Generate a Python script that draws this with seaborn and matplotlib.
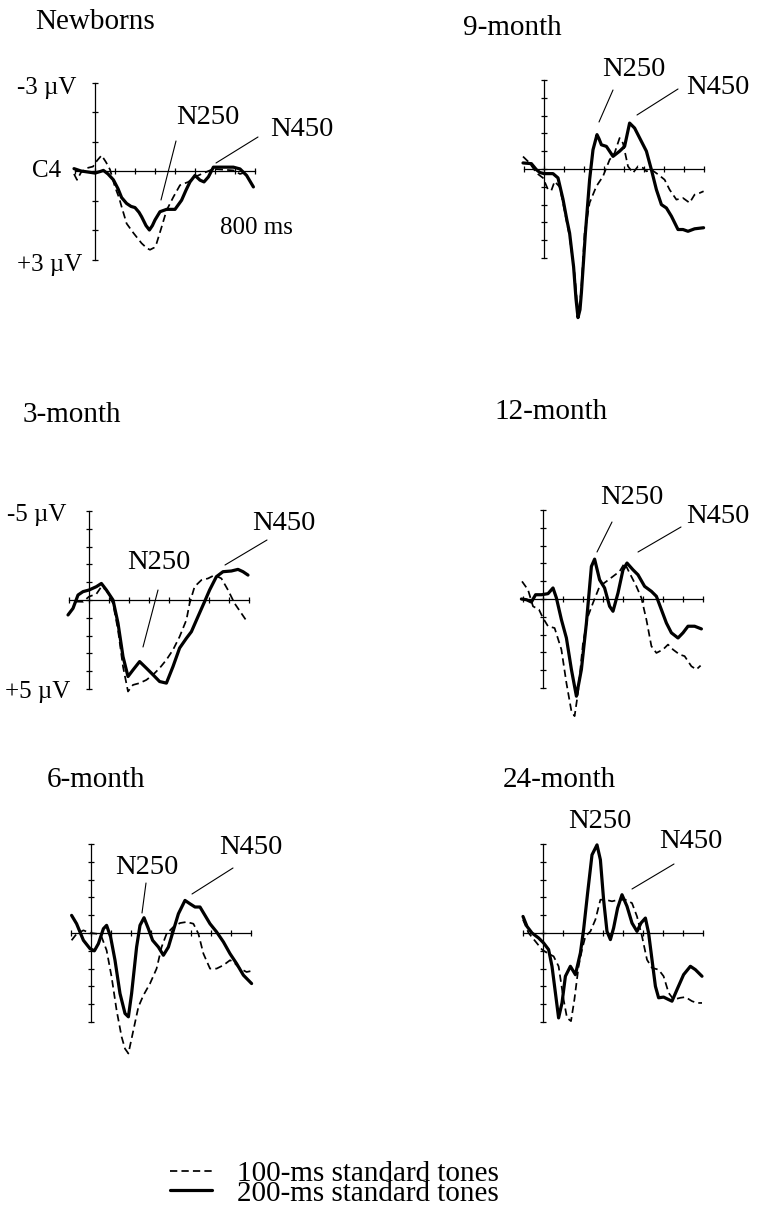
import numpy as np
import pandas as pd
import seaborn as sns
import matplotlib.pyplot as plt
from matplotlib.lines import Line2D

# ERP waveforms at C4 (ms, uV; positive values plotted downward)
nb_100_ms = [-105, -90, -70, -40, -10, 10, 33, 55, 75, 100, 120, 133, 158, 192, 233, 260, 275, 295, 308, 333, 358, 392, 425, 467, 500, 533, 592, 692, 725, 750]
nb_100_uv = [0.1, 0.3, 0.05, -0.1, -0.15, -0.35, -0.53, -0.3, -0.05, 0.54, 0.9, 1.21, 1.78, 2.1, 2.45, 2.62, 2.67, 2.6, 2.45, 1.9, 1.33, 0.88, 0.48, 0.37, 0.2, 0.1, -0.07, -0.02, 0.1, 0.05]
nb_200_ms = [-105, -70, -40, 0, 25, 42, 65, 92, 115, 133, 158, 180, 200, 220, 233, 255, 272, 287, 300, 325, 358, 400, 433, 455, 475, 500, 525, 545, 567, 592, 625, 692, 725, 758, 792]
nb_200_uv = [-0.08, 0.0, 0.03, 0.07, 0.02, -0.02, 0.1, 0.3, 0.6, 0.9, 1.1, 1.2, 1.24, 1.4, 1.55, 1.85, 2.0, 1.85, 1.66, 1.38, 1.3, 1.3, 0.99, 0.65, 0.37, 0.15, 0.31, 0.37, 0.2, -0.13, -0.13, -0.13, -0.07, 0.15, 0.54]

m9_100_ms = [-105, -72, -38, -5, 20, 37, 53, 78, 95, 128, 153, 170, 185, 203, 228, 262, 295, 328, 353, 378, 395, 420, 445, 470, 495, 512, 537, 570, 603, 628, 662, 695, 728, 753, 778, 798]
m9_100_uv = [-0.7, -0.34, 0.22, 0.5, 1.16, 1.2, 0.7, 1.0, 1.9, 3.8, 5.9, 8.1, 7.0, 3.6, 1.9, 0.97, 0.41, -0.52, -0.9, -1.74, -1.45, -0.15, 0.22, -0.15, -0.06, 0.13, 0.04, 0.3, 0.6, 1.16, 1.72, 1.63, 1.9, 1.44, 1.35, 1.25]
m9_200_ms = [-105, -63, -38, -20, 0, 45, 70, 95, 115, 128, 148, 160, 170, 180, 187, 207, 228, 245, 265, 275, 287, 312, 345, 378, 403, 428, 453, 487, 512, 537, 562, 587, 612, 637, 670, 695, 720, 753, 798]
m9_200_uv = [-0.34, -0.3, 0.04, 0.2, 0.26, 0.26, 0.5, 1.7, 2.9, 3.6, 5.5, 7.3, 8.35, 7.9, 6.95, 3.6, 0.6, -1.08, -1.93, -1.7, -1.36, -1.27, -0.71, -1.0, -1.27, -2.58, -2.3, -1.55, -1.0, 0.04, 1.16, 2.0, 2.19, 2.65, 3.4, 3.4, 3.5, 3.36, 3.3]

m3_100_ms = [-65, -30, 0, 37, 62, 87, 120, 145, 170, 195, 220, 253, 287, 320, 353, 387, 420, 453, 487, 503, 528, 562, 595, 628, 662, 695, 728, 762, 790]
m3_100_uv = [0.09, 0.1, -0.19, -0.34, -0.75, -0.56, 0.19, 1.68, 3.74, 5.14, 4.77, 4.67, 4.49, 4.2, 3.83, 3.36, 2.8, 2.06, 1.12, 0.19, -0.75, -1.12, -1.21, -1.4, -1.21, -0.56, 0.19, 0.75, 1.21]
m3_200_ms = [-105, -80, -55, -30, 0, 37, 62, 87, 120, 145, 170, 195, 220, 253, 287, 320, 353, 387, 420, 453, 487, 512, 545, 578, 603, 637, 670, 712, 745, 770, 795]
m3_200_uv = [0.84, 0.47, -0.28, -0.47, -0.56, -0.75, -0.93, -0.56, 0.0, 1.3, 3.18, 4.3, 3.93, 3.46, 3.83, 4.2, 4.58, 4.67, 3.74, 2.7, 2.15, 1.78, 0.93, 0.09, -0.56, -1.31, -1.59, -1.63, -1.72, -1.59, -1.4]

m12_100_ms = [-105, -75, -50, -20, 0, 25, 58, 92, 117, 142, 158, 175, 200, 225, 250, 283, 317, 350, 383, 408, 433, 467, 492, 517, 542, 567, 600, 625, 650, 683, 708, 742, 767, 788]
m12_100_uv = [-0.99, -0.52, 0.41, 0.6, 1.07, 1.53, 1.63, 2.84, 4.71, 6.3, 6.58, 5.27, 2.47, 0.97, 0.22, -0.71, -0.99, -1.27, -1.55, -2.02, -1.46, -0.71, -0.06, 1.16, 2.65, 3.03, 2.84, 2.56, 2.84, 3.12, 3.21, 3.78, 3.96, 3.74]
m12_200_ms = [-108, -83, -58, -37, -8, 25, 50, 67, 92, 117, 142, 167, 192, 217, 242, 258, 283, 308, 333, 350, 375, 400, 420, 450, 475, 508, 542, 567, 592, 617, 642, 675, 700, 725, 758, 792]
m12_200_uv = [0.0, 0.04, 0.17, -0.24, -0.24, -0.3, -0.62, -0.06, 1.16, 2.19, 3.96, 5.46, 3.96, 1.35, -1.83, -2.24, -1.08, -0.62, 0.41, 0.69, -0.34, -1.64, -2.02, -1.64, -1.36, -0.71, -0.43, -0.15, 0.6, 1.35, 1.9, 2.19, 1.9, 1.53, 1.53, 1.68]

m6_100_ms = [-97, -72, -38, -5, 28, 53, 78, 103, 128, 153, 170, 187, 212, 237, 262, 295, 328, 353, 378, 412, 445, 478, 512, 537, 562, 595, 628, 662, 695, 712, 745, 778, 803]
m6_100_uv = [0.41, 0.05, -0.15, 0.0, 0.04, 0.22, 0.97, 2.47, 4.34, 5.83, 6.5, 6.77, 5.46, 4.15, 3.5, 2.84, 2.0, 0.79, 0.04, -0.34, -0.56, -0.62, -0.52, 0.04, 1.16, 2.0, 2.0, 1.81, 1.53, 1.62, 2.0, 2.19, 2.13]
m6_200_ms = [-97, -72, -38, -5, 17, 37, 62, 78, 98, 120, 145, 170, 187, 203, 228, 245, 265, 287, 308, 337, 362, 387, 412, 437, 470, 495, 520, 545, 570, 595, 628, 662, 695, 728, 762, 803]
m6_200_uv = [-0.99, -0.52, 0.41, 0.88, 1.0, 0.6, -0.24, -0.43, 0.22, 1.53, 3.4, 4.52, 4.71, 3.4, 0.79, -0.43, -0.86, -0.24, 0.41, 0.79, 1.25, 0.79, -0.15, -1.08, -1.83, -1.64, -1.46, -1.46, -0.99, -0.52, -0.06, 0.5, 1.16, 1.72, 2.37, 2.84]

m24_100_ms = [-100, -72, -38, -5, 20, 53, 78, 103, 120, 140, 157, 178, 195, 212, 237, 262, 287, 312, 345, 378, 412, 445, 470, 495, 520, 545, 578, 603, 628, 653, 687, 712, 745, 770, 795]
m24_100_uv = [-0.75, 0.0, 0.47, 0.93, 1.12, 1.31, 1.87, 3.74, 4.77, 4.95, 3.74, 1.87, 0.93, 0.19, -0.09, -0.75, -1.87, -1.87, -1.78, -1.87, -1.87, -1.68, -0.93, 0.19, 1.5, 1.96, 2.06, 2.43, 3.36, 3.74, 3.64, 3.6, 3.83, 3.93, 3.93]
m24_200_ms = [-100, -80, -55, -22, 3, 28, 45, 62, 78, 95, 112, 137, 162, 187, 203, 223, 245, 270, 287, 303, 320, 337, 353, 373, 395, 420, 445, 470, 490, 512, 528, 545, 562, 578, 603, 628, 645, 670, 703, 737, 762, 795]
m24_200_uv = [-0.93, -0.37, 0.0, 0.28, 0.56, 0.93, 1.87, 3.36, 4.77, 3.93, 2.43, 1.87, 2.34, 1.12, -0.19, -2.24, -4.39, -4.95, -4.11, -1.87, -0.09, 0.37, -0.28, -1.4, -2.15, -1.5, -0.56, -0.09, -0.56, -0.84, 0.0, 1.5, 2.99, 3.64, 3.6, 3.74, 3.83, 3.18, 2.34, 1.87, 2.06, 2.43]

panel_titles = ["Newborns", "9-month", "3-month", "12-month", "6-month", "24-month"]
tone_labels = ["100-ms standard tones", "200-ms standard tones"]

W, H = 758, 1214
SX = 0.2  # px per ms

sns.set_style("white")
plt.rcParams['font.family'] = ['Liberation Serif', 'DejaVu Serif']
plt.rcParams['text.color'] = 'black'

fig = plt.figure(figsize=(W / 100, H / 100), dpi=100)


def make_panel(x0, y0, sy, nticks, t100, v100, t200, v200):
    left, right = x0 - 45, x0 + 200
    top, bottom = y0 - 150, y0 + 170
    ax = fig.add_axes([left / W, 1 - bottom / H, (right - left) / W, (bottom - top) / H])
    ax.patch.set_alpha(0)
    df = pd.concat([
        pd.DataFrame({"ms": t100, "uv": v100, "tone": "100"}),
        pd.DataFrame({"ms": t200, "uv": v200, "tone": "200"}),
    ])
    sns.lineplot(data=df, x="ms", y="uv", style="tone", size="tone",
                 sizes={"100": 1.25, "200": 2.3}, dashes={"100": (4.2, 2.4), "200": ""},
                 color="black", estimator=None, sort=False, legend=False, ax=ax)
    ax.set_xlim((left - x0) / SX, (right - x0) / SX)
    ax.set_ylim((bottom - y0) / sy, (top - y0) / sy)
    for s in ["top", "right"]:
        ax.spines[s].set_visible(False)
    ax.spines["left"].set_position(("data", 0))
    ax.spines["bottom"].set_position(("data", 0))
    ax.spines["left"].set_bounds(-nticks, nticks)
    ax.spines["bottom"].set_bounds(-100, 800)
    for s in ["left", "bottom"]:
        ax.spines[s].set_linewidth(0.9)
        ax.spines[s].set_color("black")
    ax.set_xticks(range(-100, 801, 100))
    ax.set_yticks(range(-nticks, nticks + 1))
    ax.tick_params(direction="inout", length=5, width=0.9, color="black",
                   labelbottom=False, labelleft=False, bottom=True, left=True)
    ax.set_xlabel("")
    ax.set_ylabel("")
    return ax


make_panel(95, 171, 29.5, 3, nb_100_ms, nb_100_uv, nb_200_ms, nb_200_uv)
make_panel(544, 169, 17.8, 5, m9_100_ms, m9_100_uv, m9_200_ms, m9_200_uv)
make_panel(89, 600, 17.8, 5, m3_100_ms, m3_100_uv, m3_200_ms, m3_200_uv)
make_panel(543, 599, 17.8, 5, m12_100_ms, m12_100_uv, m12_200_ms, m12_200_uv)
make_panel(91, 933, 17.8, 5, m6_100_ms, m6_100_uv, m6_200_ms, m6_200_uv)
make_panel(543, 933, 17.8, 5, m24_100_ms, m24_100_uv, m24_200_ms, m24_200_uv)


def ftext(x, y, s, size, ha="left"):
    fig.text(x / W, 1 - y / H, s, fontsize=size, ha=ha, va="center", color="black")


def leader(x1, y1, x2, y2):
    fig.add_artist(Line2D([x1 / W, x2 / W], [1 - y1 / H, 1 - y2 / H], color="black", lw=0.8))


# panel titles
for (x, y), t in zip([(35, 22), (463, 28), (23, 415), (494, 412), (47, 780), (503, 780)], panel_titles):
    ftext(x, y, t, 21)

# axis annotations
ftext(17, 88, "-3 µV", 18)
ftext(32, 171, "C4", 18)
ftext(17, 265, "+3 µV", 18)
ftext(220, 228, "800 ms", 18)
ftext(7, 515, "-5 µV", 18)
ftext(5, 692, "+5 µV", 18)

# component labels
comp = [
    (208, 117, "N250", (176, 141, 161, 200)),
    (302, 130, "N450", (258, 137, 216, 163)),
    (634, 69, "N250", (613, 90, 599, 122)),
    (718, 88, "N450", (678, 89, 637, 115)),
    (159, 562, "N250", (158, 590, 143, 647)),
    (284, 523, "N450", (267, 540, 225, 565)),
    (632, 498, "N250", (612, 522, 597, 552)),
    (718, 516, "N450", (681, 527, 638, 552)),
    (147, 868, "N250", (146, 883, 142, 913)),
    (251, 848, "N450", (233, 868, 192, 894)),
    (600, 822, "N250", None),
    (691, 841, "N450", (674, 864, 632, 889)),
]
for x, y, s, ln in comp:
    ftext(x, y, s, 20.5, ha="center")
    if ln is not None:
        leader(*ln)

handles = [Line2D([], [], color="black", lw=1.25, dashes=(4.2, 2.4)),
           Line2D([], [], color="black", lw=2.3)]
leg = fig.legend(handles, tone_labels, loc="upper left", bbox_to_anchor=(170 / W, 1 - 1161 / H),
                 frameon=False, fontsize=21, handlelength=1.45, handletextpad=0.85,
                 labelspacing=-0.25, borderpad=0, borderaxespad=0)
for t in leg.get_texts():
    t.set_color("black")

fig.savefig("out.png", dpi=100)
